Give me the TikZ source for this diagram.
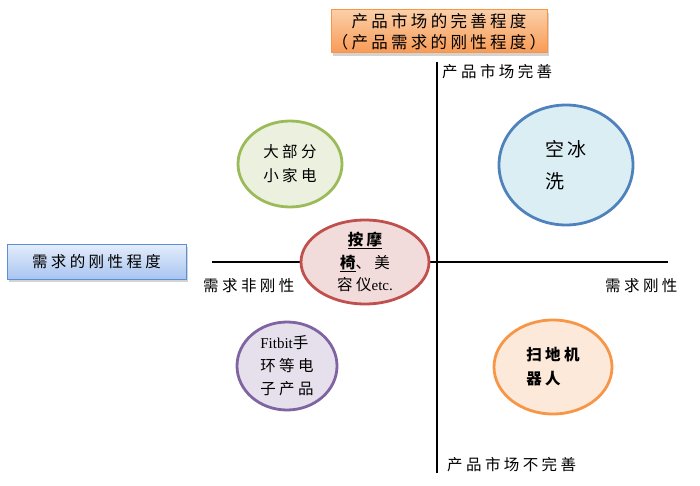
\documentclass[tikz,border=0pt]{standalone}
\usepackage{fontspec}
\setmainfont{Liberation Serif}
\newfontfamily\cjk[LetterSpace=22]{Noto Sans CJK SC}
\newfontfamily\cjkbig[LetterSpace=20]{Noto Sans CJK SC}
\usetikzlibrary{shapes.geometric,shadows}
\definecolor{gfill}{HTML}{EBF1DE}\definecolor{gline}{HTML}{9BBB59}
\definecolor{bfill}{HTML}{DBEEF4}\definecolor{bline}{HTML}{4F81BD}
\definecolor{rfill}{HTML}{F2DCDB}\definecolor{rline}{HTML}{C0504D}
\definecolor{pfill}{HTML}{E5E0EC}\definecolor{pline}{HTML}{8064A2}
\definecolor{ofill}{HTML}{FDE9D9}\definecolor{oline}{HTML}{F79646}
\definecolor{otop}{HTML}{FBCFA8}\definecolor{obot}{HTML}{F89A55}
\definecolor{btop}{HTML}{E4EDFB}\definecolor{bbot}{HTML}{A9C5F0}
\definecolor{bbox}{HTML}{5B8FD6}
\begin{document}
\begin{tikzpicture}[x=1pt,y=-1pt,
  axis/.style={line width=1.6pt,black},
  lbl/.style={font=\cjk\fontsize{15.5}{17}\selectfont,inner sep=0pt},
  ell/.style={ellipse,line width=2.8pt,inner sep=0pt},
  etext/.style={font=\cjk\fontsize{15.5}{24}\selectfont,inner sep=0pt},
  sbox/.style={rectangle,line width=1pt,drop shadow={opacity=0.35,shadow xshift=2pt,shadow yshift=-3pt}}]
\useasboundingbox (0,0) rectangle (700,486);
% axes
\coordinate (vt) at (437,62);
\coordinate (vb) at (437,473);
\coordinate (hl) at (212,262);
\coordinate (hr) at (668,262);
\draw[axis] (vt) -- (vb);
\draw[axis] (hl) -- (hr);
% boxes
\node[sbox,draw=oline,top color=otop,bottom color=obot,minimum width=216pt,minimum height=43pt] (topbox) at (439,31.5) {};
\node[font=\cjkbig\fontsize{16.5}{21}\selectfont,align=center,inner sep=0pt] (toptext) at (topbox) {产品市场的完善程度\\（产品需求的刚性程度）};
\node[sbox,draw=bbox,top color=btop,bottom color=bbot,minimum width=179pt,minimum height=35pt] (leftbox) at (96.5,261.5) {};
\node[lbl] (lefttext) at (leftbox) {需求的刚性程度};
% axis labels
\node[lbl,anchor=west] (ltop) at (442,72) {产品市场完善};
\node[lbl,anchor=west] (lbot) at (447,465) {产品市场不完善};
\node[lbl,anchor=west] (lleft) at (203,286) {需求非刚性};
\node[lbl,anchor=west] (lright) at (605,286) {需求刚性};
% ellipses
\node[ell,draw=gline,fill=gfill,minimum width=104pt,minimum height=86pt] (eg) at (290,164) {};
\node[etext,align=left] (tg) at (eg) {大部分\\小家电};
\node[ell,draw=bline,fill=bfill,minimum width=134pt,minimum height=120pt] (eb) at (566,165) {};
\node[font=\cjkbig\fontsize{19}{32}\selectfont,align=left,inner sep=0pt] (tb) at (eb) {空冰\\洗};
\node[ell,draw=rline,fill=rfill,minimum width=128pt,minimum height=84pt] (er) at (365,262) {};
\node[etext,align=center,font=\cjk\fontsize{15.5}{22.5}\selectfont] (tr) at (er) {\textbf{\underline{按摩}}\\\textbf{\underline{椅}}、美\\容仪{\rmfamily\fontsize{15}{22}\selectfont etc.}};
\node[ell,draw=pline,fill=pfill,minimum width=100pt,minimum height=88pt] (ep) at (287,366) {};
\node[etext,align=left,font=\cjk\fontsize{15.5}{23}\selectfont] (tp) at (ep) {{\rmfamily\fontsize{15}{23}\selectfont Fitbit}手\\环等电\\子产品};
\node[ell,draw=oline,fill=ofill,minimum width=118pt,minimum height=94pt] (eo) at (553,367) {};
\node[etext,align=left,font=\cjk\bfseries\fontsize{15.5}{24}\selectfont] (to) at (eo) {扫地机\\器人};
\end{tikzpicture}
\end{document}
